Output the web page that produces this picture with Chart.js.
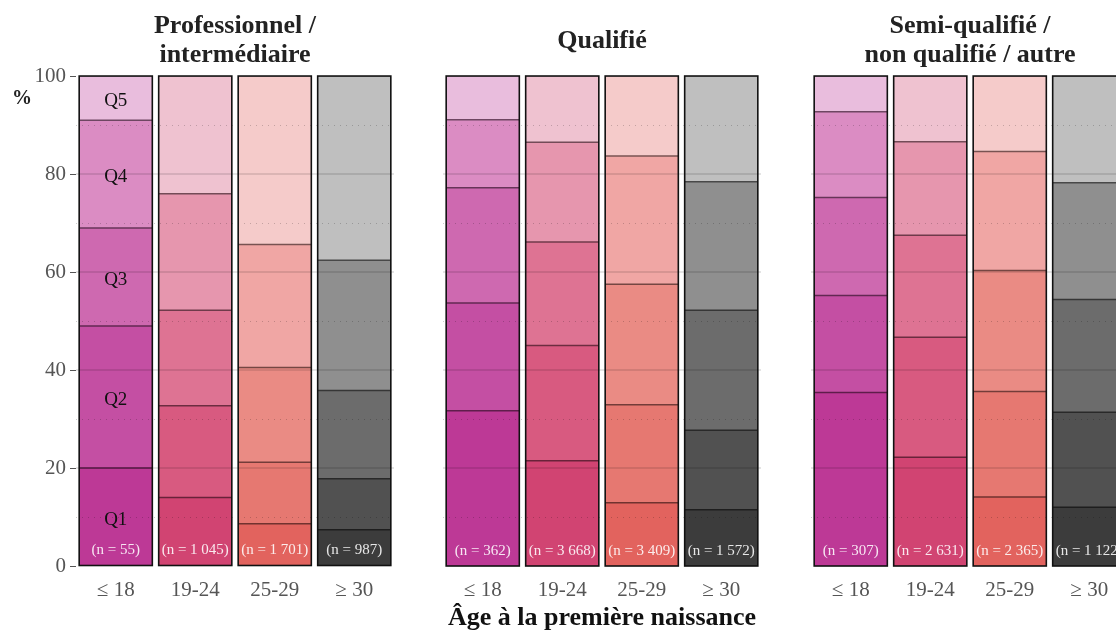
<!DOCTYPE html>
<html lang="fr">
<head>
<meta charset="UTF-8" />
<title>Quintiles selon l'âge à la première naissance</title>
<script src="https://cdn.jsdelivr.net/npm/chart.js"></script>
<style>
  html, body { margin: 0; padding: 0; background: #fff; overflow: hidden; }
  #wrap { position: relative; width: 1116px; height: 635px; overflow: hidden; }
  #wrap canvas { position: absolute; top: 0; }
  #pct { position: absolute; left: 12px; top: 86px; font: bold 20px 'Liberation Serif', 'DejaVu Serif', serif; color: #222; }
</style>
</head>
<body>
<div id="wrap">
  <canvas id="panel1" width="400" height="635" style="left:0"></canvas>
  <canvas id="panel2" width="400" height="635" style="left:400px"></canvas>
  <canvas id="panel3" width="400" height="635" style="left:768px"></canvas>
  <div id="pct">%</div>
</div>

<script>
// categories
const ageGroups = ['≤ 18', '19-24', '25-29', '≥ 30'];
const quintiles = ['Q1', 'Q2', 'Q3', 'Q4', 'Q5'];

// shares (%) – one row per quintile, one value per age group
const profShares = [
  [20.0, 14.0, 8.6, 7.4],
  [29.0, 18.7, 12.6, 10.4],
  [20.0, 19.5, 19.3, 18.0],
  [22.0, 23.8, 25.1, 26.6],
  [9.0, 24.0, 34.4, 37.6]
];
const qualShares = [
  [31.7, 21.5, 12.9, 11.5],
  [22.0, 23.5, 20.0, 16.2],
  [23.5, 21.1, 24.6, 24.5],
  [13.9, 20.4, 26.2, 26.2],
  [8.9, 13.5, 16.3, 21.6]
];
const semiShares = [
  [35.4, 22.2, 14.1, 12.0],
  [19.8, 24.5, 21.5, 19.4],
  [20.0, 20.8, 24.7, 23.0],
  [17.5, 19.1, 24.3, 23.8],
  [7.3, 13.4, 15.4, 21.8]
];

// sample sizes
const profN = ['55', '1 045', '1 701', '987'];
const qualN = ['362', '3 668', '3 409', '1 572'];
const semiN = ['307', '2 631', '2 365', '1 122'];

// one palette per age group, Q1 -> Q5
const palette = [
  ['#bd3996', '#c44fa3', '#ce69b0', '#db8cc3', '#e9bddd'],
  ['#d14472', '#d85a80', '#de7393', '#e696ae', '#efc2d0'],
  ['#e2635e', '#e67871', '#ea8b84', '#f0a6a4', '#f5cbca'],
  ['#3c3c3c', '#515151', '#6c6c6c', '#8f8f8f', '#bfbfbf']
];

const FONT = "'Liberation Serif', 'DejaVu Serif', serif";
Chart.defaults.font.family = FONT;
Chart.defaults.color = '#555';

// darker shade for the line between two segments
const darken = (hex, k) => {
  const v = parseInt(hex.slice(1), 16);
  const r = Math.round(((v >> 16) & 255) * k);
  const g = Math.round(((v >> 8) & 255) * k);
  const b = Math.round((v & 255) * k);
  return `rgb(${r},${g},${b})`;
};

// separators, grid over the bars, black outline of each bar, text labels
const overlay = {
  id: 'overlay',
  afterDatasetsDraw(chart, args, opts) {
    const { ctx, chartArea: a } = chart;
    const y = chart.scales.y;
    const nSets = chart.data.datasets.length;
    ctx.save();

    // lines between segments (darker shade of the lower segment)
    ctx.lineWidth = 1.5;
    for (let di = 0; di < nSets - 1; di++) {
      chart.getDatasetMeta(di).data.forEach((el, i) => {
        ctx.strokeStyle = darken(palette[i][di], 0.5);
        ctx.beginPath();
        ctx.moveTo(el.x - el.width / 2, el.y);
        ctx.lineTo(el.x + el.width / 2, el.y);
        ctx.stroke();
      });
    }

    // major lines
    ctx.strokeStyle = 'rgba(0,0,0,0.14)';
    ctx.lineWidth = 1.6;
    y.ticks.forEach(t => {
      if (t.value <= 0 || t.value >= 100) return;
      const py = Math.round(y.getPixelForValue(t.value));
      ctx.beginPath(); ctx.moveTo(a.left, py); ctx.lineTo(a.right, py); ctx.stroke();
    });
    // minor dotted lines
    ctx.strokeStyle = 'rgba(0,0,0,0.2)';
    ctx.lineWidth = 1;
    ctx.setLineDash([1, 5]);
    for (let i = 0; i < y.ticks.length - 1; i++) {
      const mid = (y.ticks[i].value + y.ticks[i + 1].value) / 2;
      const py = Math.round(y.getPixelForValue(mid)) + 0.5;
      ctx.beginPath(); ctx.moveTo(a.left, py); ctx.lineTo(a.right, py); ctx.stroke();
    }
    ctx.setLineDash([]);

    const first = chart.getDatasetMeta(0).data;
    const last = chart.getDatasetMeta(nSets - 1).data;
    // outline
    ctx.strokeStyle = '#111';
    ctx.lineWidth = 1.6;
    first.forEach((bar, i) => {
      const x0 = bar.x - bar.width / 2;
      const top = last[i].y;
      ctx.strokeRect(x0, top, bar.width, bar.base - top);
    });

    // n labels
    ctx.textAlign = 'center';
    ctx.textBaseline = 'middle';
    ctx.font = '15px ' + FONT;
    ctx.fillStyle = 'rgba(255,255,255,0.88)';
    first.forEach((bar, i) => {
      ctx.fillText('(n = ' + opts.n[i] + ')', bar.x, bar.base - 15);
    });

    // quintile labels in the first bar
    if (opts.showQ) {
      ctx.font = '19px ' + FONT;
      ctx.fillStyle = '#111';
      chart.data.datasets.forEach((ds, di) => {
        const el = chart.getDatasetMeta(di).data[0];
        ctx.fillText(ds.label, el.x, (el.y + el.base) / 2 + 3);
      });
    }
    ctx.restore();
  }
};

const makePanel = (id, title, shares, nLabels, first, axisTitle) => {
  const twoLines = Array.isArray(title);
  new Chart(document.getElementById(id), {
    type: 'bar',
    data: {
      labels: ageGroups,
      datasets: quintiles.map((q, qi) => ({
        label: q,
        data: shares[qi],
        backgroundColor: palette.map(p => p[qi]),
        borderWidth: 0,
        barPercentage: 0.92,
        categoryPercentage: 1.0
      }))
    },
    options: {
      responsive: false,
      animation: false,
      layout: { padding: first ? { left: 0, right: 6 } : { left: 43, right: 39 } },
      scales: {
        x: {
          stacked: true,
          grid: { display: false },
          border: { display: false },
          ticks: { font: { size: 21 }, color: '#555', padding: 4 },
          title: {
            display: !!axisTitle,
            text: axisTitle || '',
            font: { size: 26, weight: 'bold' },
            color: '#111',
            padding: { top: 0, bottom: 1 }
          },
          afterFit: s => { s.height = 69; }
        },
        y: {
          stacked: true,
          min: 0,
          max: 100,
          display: first,
          ticks: { stepSize: 20, font: { size: 21 }, color: '#555', padding: 4 },
          grid: { drawOnChartArea: false, drawTicks: true, tickLength: 6, color: '#555' },
          border: { display: false },
          afterFit: s => { if (first) s.width = 76; }
        }
      },
      plugins: {
        legend: { display: false },
        tooltip: { enabled: false },
        title: {
          display: true,
          text: title,
          fullSize: false,
          color: '#222',
          font: { size: 26, weight: 'bold', lineHeight: 1.12 },
          padding: twoLines ? { top: 11.4, bottom: 6.4 } : { top: 26.4, bottom: 20.5 }
        },
        overlay: { n: nLabels, showQ: first }
      }
    },
    plugins: [overlay]
  });
};

makePanel('panel1', ['Professionnel /', 'intermédiaire'], profShares, profN, true, null);
makePanel('panel2', 'Qualifié', qualShares, qualN, false, 'Âge à la première naissance');
makePanel('panel3', ['Semi-qualifié /', 'non qualifié / autre'], semiShares, semiN, false, null);
</script>
</body>
</html>
